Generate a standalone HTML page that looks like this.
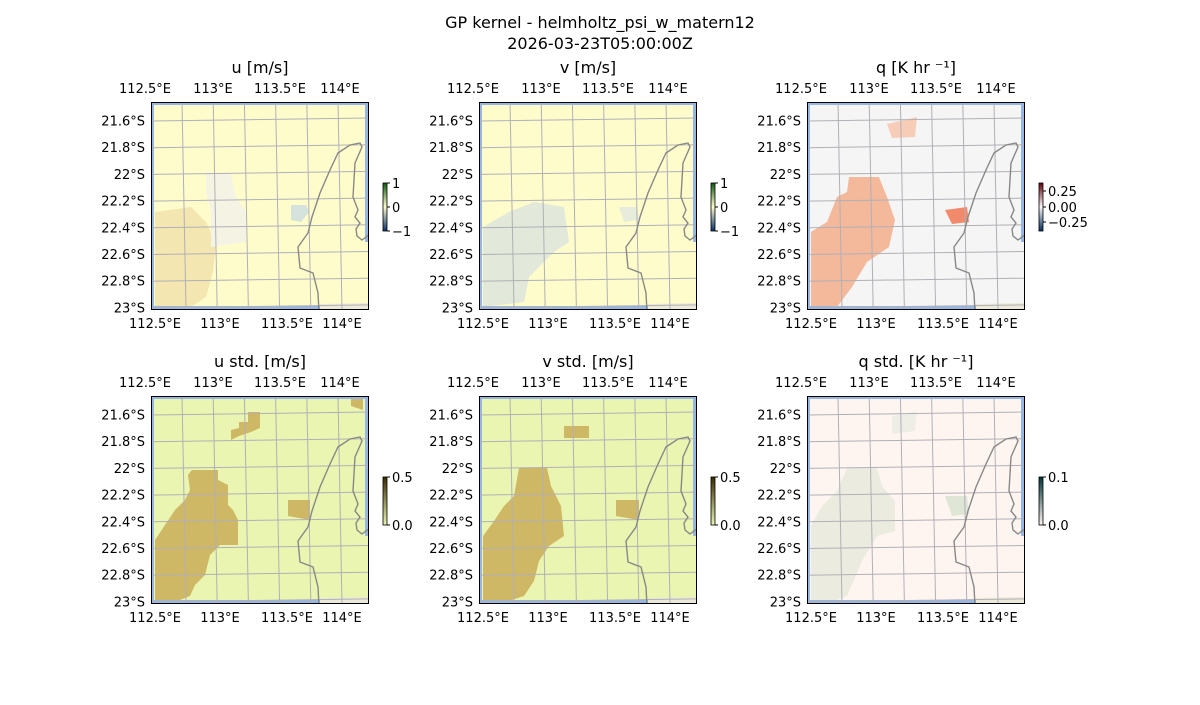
<!DOCTYPE html>
<html><head><meta charset="utf-8"><style>
body{margin:0;background:#fff;font-family:"Liberation Sans","DejaVu Sans",sans-serif}
svg text{font-family:"DejaVu Sans","Liberation Sans",sans-serif;fill:#000}
</style></head><body>
<svg id="s" width="1200" height="700" xmlns="http://www.w3.org/2000/svg">
<defs><clipPath id="clp"><rect x="0" y="0" width="218" height="208"/></clipPath></defs>
<text x="600" y="28" font-size="16" text-anchor="middle">GP kernel - helmholtz_psi_w_matern12</text>
<text x="600" y="49" font-size="16" text-anchor="middle">2026-03-23T05:00:00Z</text>
</svg>
<script>
const S=document.getElementById('s');
let h='';
const coastG=[[319,312],[318,293],[313,273],[300,268],[298,247],[308,233],[312,217],[320,193],[330,170],[338,153],[350,145],[360,143],[362,147],[355,163],[353,197],[358,210],[355,217],[360,223],[356,229],[357,236],[362,240],[370,234]];
const coast=coastG.map(p=>[p[0]-151,p[1]-102]);
const panels=[
 {x:151,y:102,t:'u [m/s]',bg:'#fffccb',cb:['1','0','−1'],cbc:['#0a5a10','#fffccb','#08306b'],blobs:[
  ['#f3e6b0','4,110 40,105 55,120 65,140 62,170 55,195 40,205 4,205'],
  ['#f5f4e4','55,70 80,72 85,95 95,110 95,140 60,145 60,110 55,90'],
  ['#d6e2dc','140,103 155,103 158,110 150,120 140,118']]},
 {x:479,y:102,t:'v [m/s]',bg:'#fffccb',cb:['1','0','−1'],cbc:['#0a5a10','#fffccb','#08306b'],blobs:[
  ['#e2e8da','4,125 30,110 55,100 85,105 90,140 75,150 50,175 45,200 4,205'],
  ['#e8ecdc','140,105 158,105 160,118 145,120']]},
 {x:807,y:102,t:'q [K hr ⁻¹]',bg:'#f5f5f5',cb:['0.25','0.00','−0.25'],cbc:['#67000d','#f7f7f7','#053061'],blobs:[
  ['#f4b89a','42,75 72,75 80,95 88,118 82,145 60,160 45,185 30,205 4,205 4,130 20,120 30,95 40,90'],
  ['#f7cdb8','80,22 110,15 108,35 85,36'],
  ['#f08a6a','138,108 160,105 162,120 145,122']]},
 {x:151,y:396,t:'u std. [m/s]',bg:'#e9f5b0',cb:['0.5','0.0'],cbc:['#3a2a00','#e9f5b0'],blobs:[
  ['#cfb865','41,74 67,74 67,84 77,89 77,109 82,114 87,124 87,149 69,149 59,159 54,179 44,189 39,200 19,208 4,208 4,144 14,129 24,114 34,104 39,94 37,79'],
  ['#cfb865','97,16 109,16 109,32 100,36 88,40 80,44 80,34 88,32 88,26 97,26'],
  ['#cfb865','137,104 159,104 159,124 137,120'],['#cfb865','200,2 212,2 212,14 200,10']]},
 {x:479,y:396,t:'v std. [m/s]',bg:'#e9f5b0',cb:['0.5','0.0'],cbc:['#3a2a00','#e9f5b0'],blobs:[
  ['#cfb865','40,72 68,72 72,90 82,110 85,140 70,150 60,165 55,185 45,200 20,208 4,208 4,140 15,125 25,110 35,100'],
  ['#cfb865','85,30 110,30 110,42 85,42'],['#cfb865','137,104 160,104 160,124 137,120']]},
 {x:807,y:396,t:'q std. [K hr ⁻¹]',bg:'#fff5f0',cb:['0.1','0.0'],cbc:['#00343a','#fff5f0'],blobs:[
  ['#ebebe0','40,72 70,72 75,90 88,105 88,135 70,140 55,165 40,200 20,208 4,208 4,130 15,110 30,95'],
  ['#dfe6d6','138,100 160,100 162,118 145,120'],['#efeee6','85,20 110,15 108,35 85,38']]}
];
panels.forEach((p,i)=>{
 const W=218,H=208;
 h+=`<text x="${p.x+109}" y="${p.y-29}" font-size="16" text-anchor="middle">${p.t}</text>`;
 h+=`<g transform="translate(${p.x},${p.y})"><g clip-path="url(#clp)"><rect width="${W}" height="${H}" fill="${p.bg}"/>`;
 p.blobs.forEach(b=>h+=`<polygon points="${b[1]}" fill="${b[0]}"/>`);
 h+=`<rect x="0" y="0" width="3" height="${H}" fill="#97b6e2"/><rect x="0" y="0" width="${W}" height="3" fill="#97b6e2"/><rect x="${W-4}" y="0" width="4" height="140" fill="#97b6e2"/><rect x="0" y="${H-4}" width="170" height="4" fill="#97b6e2"/><polygon points="169,${H-6} ${W},${H-7} ${W},${H} 169,${H}" fill="#ece9d8"/>`;
 let gl='';
 for(let k=0;k<7;k++){const xt=31+k*31.2,xb=xt+4;gl+=`<line x1="${xt}" y1="0" x2="${xb}" y2="${H}"/>`;}
 for(let k=0;k<8;k++){const yl=19+k*26.7;gl+=`<line x1="0" y1="${yl}" x2="${W}" y2="${yl-3}"/>`;}
 h+=`<g stroke="#b0b0b8" stroke-width="1">${gl}</g>`;
 h+=`<polyline points="${coast.map(c=>c.join(',')).join(' ')}" fill="none" stroke="#888" stroke-width="1.4"/></g>`;
 h+=`<rect x="0.5" y="0.5" width="${W-1}" height="${H-1}" fill="none" stroke="#000" stroke-width="1"/></g>`;
 const top=[['112.5°E',-6],['113°E',62],['113.5°E',129],['114°E',189]],bot=[['112.5°E',4],['113°E',69],['113.5°E',136],['114°E',191]];
 top.forEach(t=>h+=`<text x="${p.x+t[1]}" y="${p.y-9}" font-size="13" text-anchor="middle">${t[0]}</text>`);
 bot.forEach(t=>h+=`<text x="${p.x+t[1]}" y="${p.y+H+18}" font-size="13" text-anchor="middle">${t[0]}</text>`);
 ['21.6°S','21.8°S','22°S','22.2°S','22.4°S','22.6°S','22.8°S','23°S'].forEach((l,k)=>h+=`<text x="${p.x-6}" y="${p.y+23.5+k*26.7}" font-size="13" text-anchor="end">${l}</text>`);
 const cx=p.x+232,cy=p.y+81;
 h+=`<defs><linearGradient id="g${i}" x1="0" y1="0" x2="0" y2="1">${p.cbc.map((c,j)=>`<stop offset="${j/(p.cbc.length-1)}" stop-color="${c}"/>`).join('')}</linearGradient></defs>`;
 h+=`<rect x="${cx}" y="${cy}" width="4" height="48" fill="url(#g${i})" stroke="#000" stroke-width="0.8"/>`;
 let ys;
 if(p.cb.length==3) ys= i==2?[cy+8,cy+24,cy+39]:[cy,cy+24,cy+48]; else ys=[cy,cy+48];
 p.cb.forEach((l,j)=>{h+=`<line x1="${cx+4}" y1="${ys[j]}" x2="${cx+7}" y2="${ys[j]}" stroke="#000"/><text x="${cx+9}" y="${ys[j]+5}" font-size="13">${l}</text>`;});
});
S.insertAdjacentHTML('beforeend',h);
</script>
</body></html>
